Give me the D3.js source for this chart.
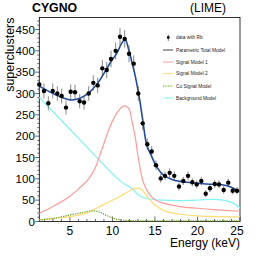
<!DOCTYPE html>
<html>
<head>
<meta charset="utf-8">
<script src="https://cdn.jsdelivr.net/npm/d3@7"></script>
<style>
  body { margin: 0; background: #fff; }
  svg { display: block; font-family: "Liberation Sans", Arial, sans-serif; }
</style>
</head>
<body>
<svg id="chart"></svg>
<script>
// energy of each data bin (keV)
const energies = [1.4, 1.95, 2.46, 2.98, 3.52, 4.03, 4.54, 5.09, 5.6, 6.15, 6.66, 7.21, 7.75, 8.27, 8.81,
  9.33, 9.83, 10.38, 10.89, 11.44, 11.95, 12.5, 13.04, 13.56, 14.1, 14.62, 15.12, 15.68, 16.18, 16.73,
  17.27, 17.83, 18.33, 18.89, 19.39, 19.91, 20.45, 20.97, 21.47, 22.03, 22.53, 23.08, 23.62, 24.14, 24.65]
// counts per bin
const counts = [321, 306, 277, 306, 300, 294, 267, 304, 303, 282, 279, 300, 325, 319, 359,
  355, 381, 400, 433, 428, 393, 370, 300, 230, 181, 164, 132, 101, 107, 114,
  107, 82, 95, 107, 92, 87, 95, 65, 78, 88, 87, 74, 91, 72, 72]
// statistical error per bin
const errors = [17.9, 17.5, 16.6, 17.5, 17.3, 17.1, 16.3, 17.4, 17.4, 16.8, 16.7, 17.3, 18.0, 17.9, 18.9,
  18.8, 19.5, 20.0, 20.8, 20.7, 19.8, 19.2, 17.3, 15.2, 13.5, 12.8, 11.5, 10.0, 10.3, 10.7,
  10.3, 9.1, 9.7, 10.3, 9.6, 9.3, 9.7, 8.1, 8.8, 9.4, 9.3, 8.6, 9.5, 8.5, 8.5]

// model curves, [keV, superclusters]
const totalModel = [[1.4, 318], [1.87, 312], [3.45, 296], [5.01, 285], [6.19, 289], [7.36, 304], [8.54, 332],
  [9.71, 371], [10.5, 394], [11.1, 418], [11.48, 427], [11.87, 406], [12.27, 375], [12.66, 343], [13.04, 304],
  [13.24, 281], [13.63, 228], [14.03, 180], [14.62, 152], [15.21, 128], [15.98, 109], [17.16, 97], [18.73, 92],
  [21.08, 88], [23.04, 85.5], [23.82, 81.6], [24.92, 70]]
const signal1 = [[1.4, 19], [2.98, 35], [4.93, 58], [6.1, 78], [7.09, 97], [7.95, 125], [8.74, 168], [9.71, 222],
  [10.5, 254], [11.1, 268], [11.48, 271], [11.87, 266], [12.07, 258], [12.27, 238], [12.66, 200], [13.04, 150],
  [13.63, 92], [14.42, 62], [15.12, 50], [15.98, 43], [17.95, 35], [19.91, 31], [21.86, 28], [25, 24]]
const signal2 = [[1.4, 3.5], [3.0, 7], [4.93, 11], [6.89, 19], [8.86, 39], [10.81, 58], [12.38, 75.5], [13.04, 78],
  [13.5, 74], [13.83, 66], [14.42, 50], [15.21, 35], [16.38, 23], [17.95, 17], [19.91, 13], [25, 11]]
const cuSignal = [[1.4, 4], [3.0, 7], [4.93, 15], [6.5, 21], [7.68, 25], [8.5, 22], [9.2, 15], [9.71, 11],
  [10.5, 5], [12.07, 2], [15, 1.5], [25, 1.5]]
const background = [[1.4, 291], [6.97, 175], [10.81, 97], [12.07, 80], [12.38, 76], [12.85, 66], [13.24, 60],
  [14.03, 54], [15.98, 50], [17.95, 49], [19.91, 50], [21.86, 52], [23.04, 50], [23.82, 46], [24.5, 40], [25, 31]]

const xTicks = [5, 10, 15, 20, 25]
const yTicks = [0, 50, 100, 150, 200, 250, 300, 350, 400, 450]
const legendLabels = ["data with Rb", "Parametric Total Model", "Signal Model 1", "Signal Model 2", "Cu Signal Model", "Background Model"]

const width = 266, height = 261
const padLeft = 39.3, padRight = 240, padTop = 17.5, padBottom = 221.5

const svg = d3.select("#chart").attr("width", width).attr("height", height)

const x = d3.scaleLinear().domain([1.4, 25]).range([padLeft, padRight])
const y = d3.scaleLinear().domain([0, 450]).range([padBottom, 29.5])

// frame
svg.append("rect")
  .attr("x", padLeft).attr("y", padTop)
  .attr("width", padRight - padLeft).attr("height", padBottom - padTop)
  .attr("fill", "none").attr("stroke", "#000").attr("stroke-width", 0.8)

// y axis, ticks outside
let yMinor = d3.range(0, 471, 10)
svg.append("g").selectAll("line").data(yMinor).join("line")
  .attr("x1", padLeft).attr("x2", d => padLeft - (d % 50 === 0 ? 4 : 2))
  .attr("y1", d => y(d)).attr("y2", d => y(d))
  .attr("stroke", "#000").attr("stroke-width", 0.6)
svg.append("g").selectAll("text").data(yTicks).join("text")
  .attr("x", padLeft - 4.5).attr("y", d => y(d) + 4.2)
  .attr("text-anchor", "end").attr("font-size", 11.5)
  .text(d => d)

// x axis, ticks inside
let xMinor = d3.range(2, 26, 1)
svg.append("g").selectAll("line").data(xMinor).join("line")
  .attr("x1", d => x(d)).attr("x2", d => x(d))
  .attr("y1", padBottom).attr("y2", d => padBottom - (d % 5 === 0 ? 5 : 2.5))
  .attr("stroke", "#000").attr("stroke-width", 0.6)
svg.append("g").selectAll("text").data(xTicks).join("text")
  .attr("x", d => d === 25 ? x(d) - 3 : x(d)).attr("y", 234.5)
  .attr("text-anchor", "middle").attr("font-size", 12)
  .text(d => d)

// titles
svg.append("text").attr("x", padRight).attr("y", 247)
  .attr("text-anchor", "end").attr("font-size", 12).text("Energy (keV)")
svg.append("text").attr("transform", `translate(13.5,${padTop}) rotate(-90)`)
  .attr("text-anchor", "end").attr("font-size", 12.5).text("superclusters")
svg.append("text").attr("x", 32).attr("y", 12)
  .attr("font-size", 12.3).attr("font-weight", "bold").text("CYGNO")
svg.append("text").attr("x", 190).attr("y", 12)
  .attr("font-size", 12).text("(LIME)")

// model curves
const line = d3.line().x(d => x(d[0])).y(d => y(d[1])).curve(d3.curveCatmullRom.alpha(0.5))
const curves = [
  { data: background, color: "#7ff4f4", width: 1.2, dash: null },
  { data: signal1, color: "#ff9a9a", width: 1.2, dash: null },
  { data: signal2, color: "#fddc78", width: 1.2, dash: null },
  { data: cuSignal, color: "#6a9e22", width: 1.2, dash: "1.3,1.1" },
  { data: totalModel, color: "#1f4c9e", width: 1.6, dash: null }
]
svg.append("g").selectAll("path").data(curves).join("path")
  .attr("d", d => line(d.data))
  .attr("fill", "none")
  .attr("stroke", d => d.color)
  .attr("stroke-width", d => d.width)
  .attr("stroke-dasharray", d => d.dash)

// data points with error bars
const pts = energies.map((e, i) => ({ e: e, n: counts[i], err: errors[i] }))
const gData = svg.append("g")
gData.selectAll("line").data(pts).join("line")
  .attr("x1", d => x(d.e)).attr("x2", d => x(d.e))
  .attr("y1", d => y(d.n - d.err)).attr("y2", d => y(d.n + d.err))
  .attr("stroke", "#555").attr("stroke-width", 0.7)
gData.selectAll("circle").data(pts).join("circle")
  .attr("cx", d => x(d.e)).attr("cy", d => y(d.n))
  .attr("r", 2.2).attr("fill", "#000")

// legend
const legendY = [37.5, 50, 62, 73.7, 86, 98]
const legendStyle = [null, ["#444", null], ["#ff9a9a", null], ["#fddc78", null], ["#6a9e22", "1.3,1.1"], ["#7ff4f4", null]]
const lg = svg.append("g")
lg.append("line").attr("x1", 168.3).attr("x2", 168.3).attr("y1", 34.5).attr("y2", 41)
  .attr("stroke", "#555").attr("stroke-width", 0.7)
lg.append("circle").attr("cx", 168.3).attr("cy", 37.5).attr("r", 1.4).attr("fill", "#000")
legendLabels.forEach((lab, i) => {
  if (i > 0) {
    lg.append("line").attr("x1", 163).attr("x2", 173)
      .attr("y1", legendY[i]).attr("y2", legendY[i])
      .attr("stroke", legendStyle[i][0]).attr("stroke-width", 1)
      .attr("stroke-dasharray", legendStyle[i][1])
  }
  lg.append("text").attr("x", 176).attr("y", legendY[i] + 1.7)
    .attr("font-size", 4.8).attr("fill", "#222").text(lab)
})
</script>
</body>
</html>
